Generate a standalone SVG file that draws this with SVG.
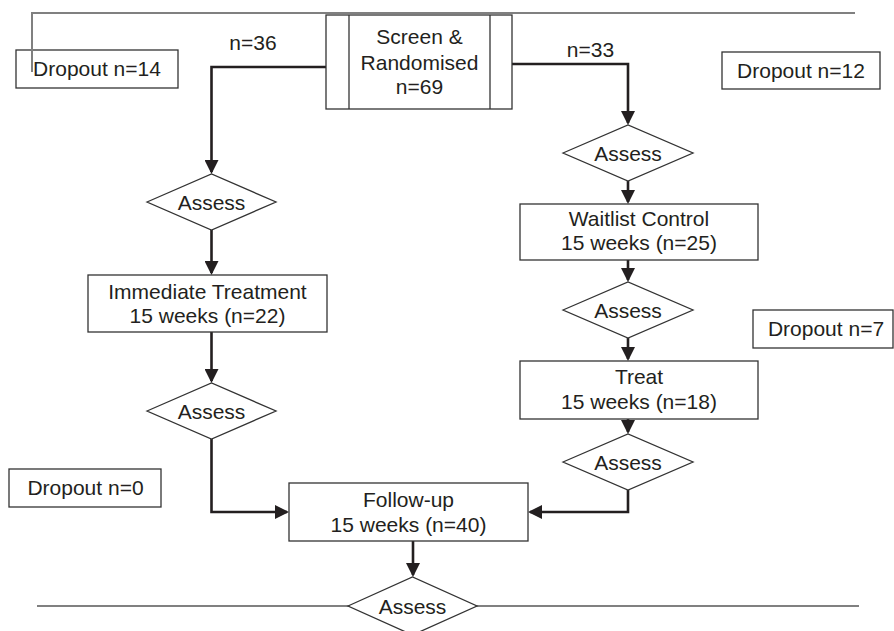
<svg xmlns="http://www.w3.org/2000/svg" width="894" height="631" viewBox="0 0 894 631">
<style>
  text { font-family: "Liberation Sans", Arial, Helvetica, sans-serif; font-size: 21px; fill: #231f20; text-anchor: middle; }
  .box { fill: #ffffff; stroke: #333333; stroke-width: 1.3; }
  .dia { fill: #ffffff; stroke: #333333; stroke-width: 1.3; }
  .conn { fill: none; stroke: #231f20; stroke-width: 2.6; marker-end: url(#arrow); }
  .rule { fill: none; stroke: #808080; stroke-width: 2; }
</style>
<defs>
  <marker id="arrow" viewBox="0 0 14 14" refX="12" refY="7" markerWidth="14" markerHeight="14" markerUnits="userSpaceOnUse" orient="auto">
    <path d="M0,0 L14,7 L0,14 z" fill="#231f20"/>
  </marker>
</defs>
<rect width="894" height="631" fill="#ffffff"/>

<g id="rule-bottom">
  <path class="rule" d="M37,606 H859"/>
</g>

<g id="connectors">
  <path class="conn" d="M326,67 H211.5 V172"/>
  <path class="conn" d="M512,64 H628 V123"/>
  <path class="conn" d="M211.5,230 V273"/>
  <path class="conn" d="M211.5,332 V381"/>
  <path class="conn" d="M211.5,439 V512 H287"/>
  <path class="conn" d="M628,181 V202"/>
  <path class="conn" d="M628,260 V280"/>
  <path class="conn" d="M628,338 V359"/>
  <path class="conn" d="M628,419 V432"/>
  <path class="conn" d="M628,490 V512 H530"/>
  <path class="conn" d="M413,541 V575"/>
</g>

<g id="screen">
  <rect class="box" x="326" y="15" width="186" height="94"/>
  <line x1="349" y1="15" x2="349" y2="109" stroke="#333333" stroke-width="1.3"/>
  <line x1="490" y1="15" x2="490" y2="109" stroke="#333333" stroke-width="1.3"/>
  <text x="419.5" y="44">Screen &amp;</text>
  <text x="419.5" y="70">Randomised</text>
  <text x="419.5" y="94">n=69</text>
</g>

<g id="label-n36"><text x="253" y="50">n=36</text></g>
<g id="label-n33"><text x="590.5" y="57">n=33</text></g>

<g id="dropout14">
  <rect class="box" x="16" y="50" width="162" height="38"/>
  <text x="97" y="76">Dropout n=14</text>
</g>
<g id="dropout12">
  <rect class="box" x="722" y="52" width="158" height="37"/>
  <text x="801" y="78">Dropout n=12</text>
</g>
<g id="dropout7">
  <rect class="box" x="753" y="310" width="140" height="38"/>
  <text x="826" y="336">Dropout n=7</text>
</g>
<g id="dropout0">
  <rect class="box" x="9" y="469" width="152" height="38"/>
  <text x="85.5" y="495">Dropout n=0</text>
</g>

<g id="rule-top">
  <path class="rule" d="M32,72 V13 H855"/>
</g>

<g id="assess-left1">
  <polygon class="dia" points="147,202 211.5,174 276,202 211.5,230"/>
  <text x="211.5" y="209.5">Assess</text>
</g>
<g id="immediate">
  <rect class="box" x="88" y="275" width="239" height="57"/>
  <text x="207.5" y="299">Immediate Treatment</text>
  <text x="207.5" y="323">15 weeks (n=22)</text>
</g>
<g id="assess-left2">
  <polygon class="dia" points="147,411 211.5,383 276,411 211.5,439"/>
  <text x="211.5" y="418.5">Assess</text>
</g>

<g id="assess-right1">
  <polygon class="dia" points="563,153 628,125 693,153 628,181"/>
  <text x="628" y="160.5">Assess</text>
</g>
<g id="waitlist">
  <rect class="box" x="520" y="204" width="238" height="56"/>
  <text x="639" y="226">Waitlist Control</text>
  <text x="639" y="250">15 weeks (n=25)</text>
</g>
<g id="assess-right2">
  <polygon class="dia" points="563,310 628,282 693,310 628,338"/>
  <text x="628" y="317.5">Assess</text>
</g>
<g id="treat">
  <rect class="box" x="520" y="361" width="238" height="58"/>
  <text x="639" y="384">Treat</text>
  <text x="639" y="409">15 weeks (n=18)</text>
</g>
<g id="assess-right3">
  <polygon class="dia" points="563,462 628,434 693,462 628,490"/>
  <text x="628" y="469.5">Assess</text>
</g>

<g id="followup">
  <rect class="box" x="289" y="483" width="239" height="58"/>
  <text x="408.5" y="507">Follow-up</text>
  <text x="408.5" y="532">15 weeks (n=40)</text>
</g>
<g id="assess-bottom">
  <polygon class="dia" points="348,606 412.5,577 477,606 412.5,635"/>
  <text x="412.5" y="613.5">Assess</text>
</g>
</svg>
